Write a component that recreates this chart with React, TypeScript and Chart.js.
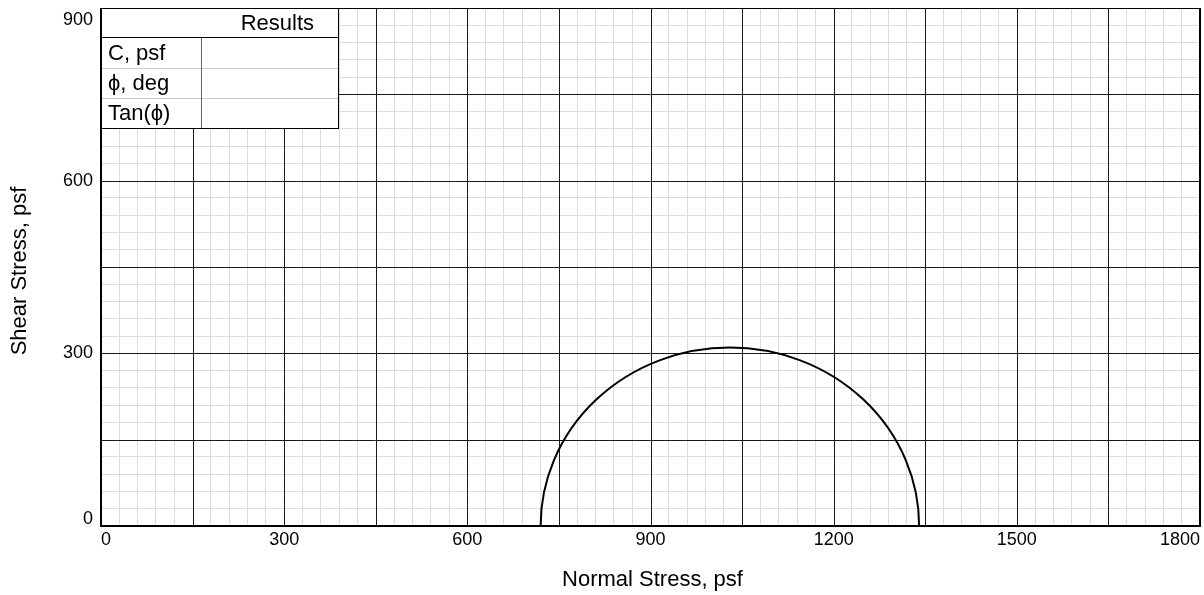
import React, { useEffect, useRef } from "react";
import { Chart, registerables } from "chart.js";

Chart.register(...registerables);

// ---- data ----
const xTickLabels = [0, 300, 600, 900, 1200, 1500, 1800];
const yTickLabels = [0, 300, 600, 900];
const sigma3 = [720]; // minor principal stress, psf
const sigma1 = [1340]; // major principal stress, psf
const resultRows = ["C, psf", "\u03D5, deg", "Tan(\u03D5)"];
const resultValues = ["", "", ""];
const tableTitle = "Results";
const xTitle = "Normal Stress, psf";
const yTitle = "Shear Stress, psf";
const majorStep = 150;
const minorStep = 30;

const FONT = "'Liberation Sans', Arial, sans-serif";

const isMajor = (v: number) => Math.abs(v % majorStep) < 1e-6;

const gridPlugin = {
  id: "majorGrid",
  beforeDatasetsDraw(chart: any) {
    const ctx = chart.ctx as CanvasRenderingContext2D;
    const area = chart.chartArea;
    const xs = chart.scales.x;
    const ys = chart.scales.y;
    ctx.save();
    ctx.strokeStyle = "#1a1a1a";
    ctx.lineWidth = 1;
    ctx.beginPath();
    xs.ticks.forEach((t: any) => {
      if (!isMajor(t.value)) return;
      const px = Math.round(xs.getPixelForValue(t.value)) + 0.5;
      ctx.moveTo(px, area.top);
      ctx.lineTo(px, area.bottom);
    });
    ys.ticks.forEach((t: any) => {
      if (!isMajor(t.value)) return;
      const py = Math.round(ys.getPixelForValue(t.value)) + 0.5;
      ctx.moveTo(area.left, py);
      ctx.lineTo(area.right, py);
    });
    ctx.stroke();
    ctx.restore();
  },
};

const drawPlugin = {
  id: "mohrDecor",
  afterDraw(chart: any) {
    const ctx = chart.ctx as CanvasRenderingContext2D;
    const area = chart.chartArea;
    const xs = chart.scales.x;
    const ys = chart.scales.y;
    ctx.save();

    // Mohr circles
    ctx.save();
    ctx.beginPath();
    ctx.rect(area.left, area.top, area.right - area.left, area.bottom - area.top);
    ctx.clip();
    for (let i = 0; i < sigma3.length; i++) {
      const c = (sigma1[i] + sigma3[i]) / 2;
      const r = (sigma1[i] - sigma3[i]) / 2;
      const cx = xs.getPixelForValue(c);
      const cy = ys.getPixelForValue(0);
      const rx = xs.getPixelForValue(c + r) - cx;
      const ry = cy - ys.getPixelForValue(r);
      ctx.beginPath();
      ctx.ellipse(cx, cy, rx, ry, 0, Math.PI, 2 * Math.PI);
      ctx.strokeStyle = "#000";
      ctx.lineWidth = 2;
      ctx.stroke();
    }
    ctx.restore();

    // frame
    ctx.strokeStyle = "#000";
    ctx.lineWidth = 2;
    ctx.beginPath();
    ctx.moveTo(area.left, area.top);
    ctx.lineTo(area.left, area.bottom);
    ctx.lineTo(area.right, area.bottom);
    ctx.lineTo(area.right, area.top);
    ctx.stroke();
    ctx.lineWidth = 1;
    ctx.beginPath();
    ctx.moveTo(area.left, area.top + 0.5);
    ctx.lineTo(area.right, area.top + 0.5);
    ctx.stroke();

    // results table
    const tl = area.left;
    const tt = area.top;
    const tw = 237;
    const rh = 30;
    const c1 = 100;
    const th = rh * (resultRows.length + 1);
    ctx.fillStyle = "#fff";
    ctx.fillRect(tl, tt, tw, th);
    ctx.lineWidth = 1;
    ctx.strokeStyle = "#c8c8c8";
    for (let i = 2; i <= resultRows.length; i++) {
      ctx.beginPath();
      ctx.moveTo(tl, tt + rh * i + 0.5);
      ctx.lineTo(tl + tw, tt + rh * i + 0.5);
      ctx.stroke();
    }
    ctx.strokeStyle = "#666";
    ctx.beginPath();
    ctx.moveTo(tl + c1 + 0.5, tt + rh);
    ctx.lineTo(tl + c1 + 0.5, tt + th);
    ctx.stroke();
    ctx.strokeStyle = "#000";
    ctx.beginPath();
    ctx.moveTo(tl, tt + rh - 0.5);
    ctx.lineTo(tl + tw, tt + rh - 0.5);
    ctx.stroke();
    ctx.strokeRect(tl + 0.5, tt + 0.5, tw, th);

    ctx.fillStyle = "#000";
    ctx.font = `22px ${FONT}`;
    ctx.textBaseline = "middle";
    ctx.textAlign = "right";
    ctx.fillText(tableTitle, tl + tw - 24, tt + rh / 2 + 1);
    ctx.textAlign = "left";
    resultRows.forEach((lab, i) => {
      ctx.fillText(lab, tl + 7, tt + rh * (i + 1) + rh / 2 + 1);
      ctx.fillText(resultValues[i], tl + c1 + 6, tt + rh * (i + 1) + rh / 2 + 1);
    });

    // tick labels
    ctx.font = `18px ${FONT}`;
    ctx.fillStyle = "#000";
    ctx.textBaseline = "top";
    xTickLabels.forEach((v) => {
      const px = xs.getPixelForValue(v);
      const txt = String(v);
      const w = ctx.measureText(txt).width;
      let cx = px;
      if (cx - w / 2 < area.left) cx = area.left + w / 2;
      if (cx + w / 2 > area.right) cx = area.right - w / 2;
      ctx.textAlign = "center";
      ctx.fillText(txt, cx, area.bottom + 5);
    });
    ctx.textBaseline = "middle";
    ctx.textAlign = "right";
    yTickLabels.forEach((v) => {
      let py = ys.getPixelForValue(v);
      py = Math.max(area.top + 12, Math.min(area.bottom - 7, py));
      ctx.fillText(String(v), area.left - 8, py);
    });

    // axis titles
    ctx.font = `22px ${FONT}`;
    ctx.textAlign = "center";
    ctx.textBaseline = "middle";
    ctx.fillText(xTitle, (area.left + area.right) / 2 + 2, area.bottom + 54);
    ctx.save();
    ctx.translate(20, (area.top + area.bottom) / 2 + 4);
    ctx.rotate(-Math.PI / 2);
    ctx.fillText(yTitle, 0, 0);
    ctx.restore();

    ctx.restore();
  },
};

export default function App() {
  const ref = useRef<HTMLCanvasElement | null>(null);

  useEffect(() => {
    document.body.style.margin = "0";
    if (!ref.current) return;
    const gridColor = (c: any) => (isMajor(c.tick.value) ? "rgba(0,0,0,0)" : "#dcdcdc");
    const chart = new Chart(ref.current, {
      type: "scatter",
      data: {
        datasets: [
          {
            label: "Mohr circle",
            data: sigma3.flatMap((s, i) => [
              { x: s, y: 0 },
              { x: sigma1[i], y: 0 },
            ]),
            pointRadius: 0,
            showLine: false,
          },
        ],
      },
      options: {
        animation: false,
        responsive: true,
        maintainAspectRatio: false,
        layout: { padding: { top: 8, right: 4, left: 0, bottom: 0 } },
        plugins: { legend: { display: false }, tooltip: { enabled: false } },
        scales: {
          x: {
            type: "linear",
            min: 0,
            max: 1800,
            ticks: { stepSize: minorStep, display: false },
            grid: { color: gridColor, lineWidth: 1, drawTicks: false },
            border: { display: false },
            title: { display: false, text: xTitle },
            afterFit: (s: any) => {
              s.height = 69;
            },
          },
          y: {
            type: "linear",
            min: 0,
            max: 900,
            ticks: { stepSize: minorStep, display: false },
            grid: { color: gridColor, lineWidth: 1, drawTicks: false },
            border: { display: false },
            title: { display: false, text: yTitle },
            afterFit: (s: any) => {
              s.width = 101;
            },
          },
        },
      },
      plugins: [gridPlugin, drawPlugin],
    });
    return () => chart.destroy();
  }, []);

  return (
    <div style={{ width: 1204, height: 595, position: "relative", background: "#fff" }}>
      <canvas ref={ref} />
    </div>
  );
}
